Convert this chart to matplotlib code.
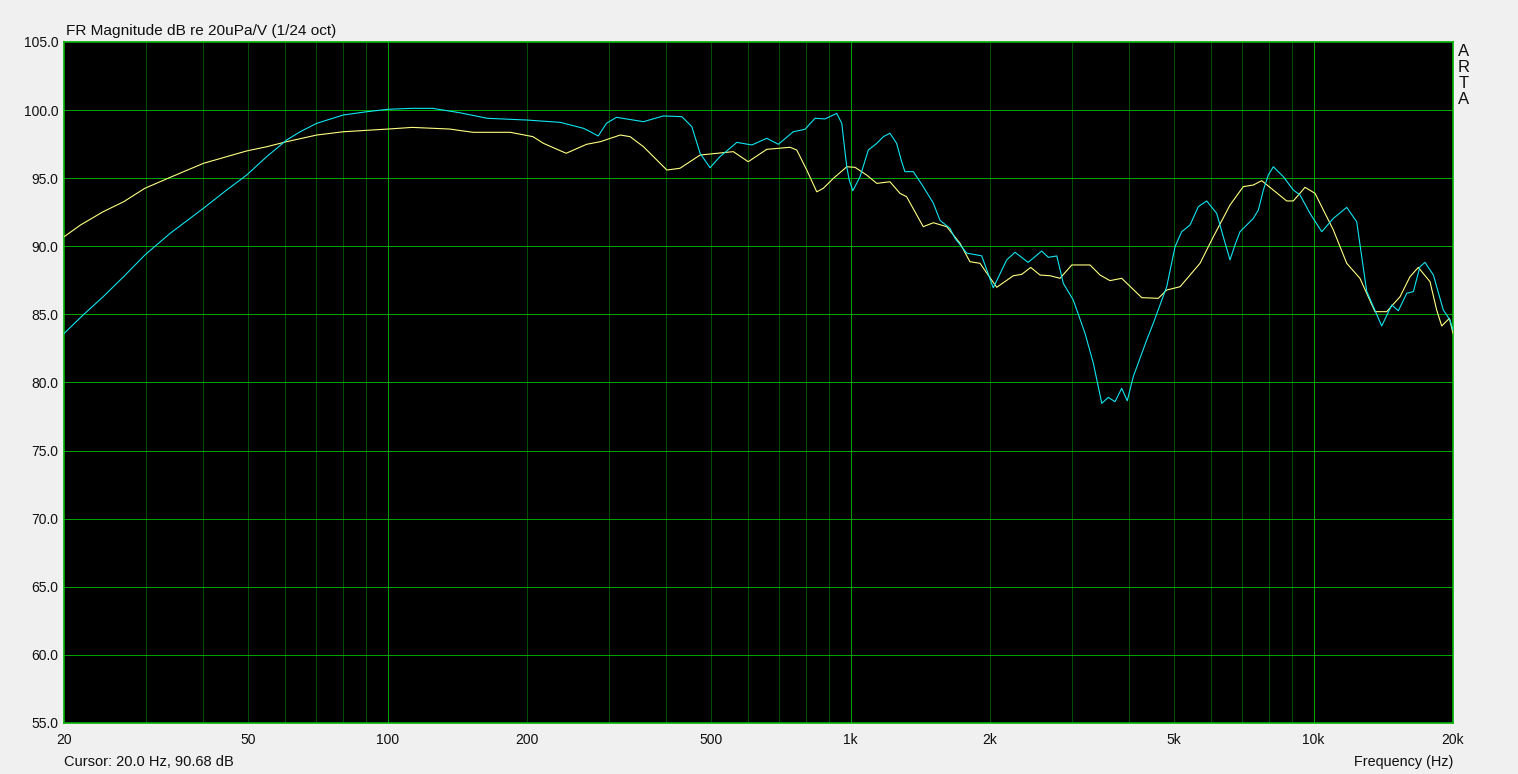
import numpy as np
import matplotlib.pyplot as plt

# response curves
cyan_freq = [20, 22.0, 24.3, 26.9, 29.9, 33.9, 40.0, 44.9, 49.6, 54.8, 60.5, 64.7, 70.3,
             80.2, 90.1, 100.3, 113, 125, 143, 164, 200, 236, 265, 274, 285, 297, 312, 357,
             394, 432, 454, 473, 497, 522, 568, 612, 659, 698, 752, 797, 838, 880, 933, 957,
             964, 981, 993, 1011, 1048, 1092, 1139, 1177, 1216, 1257, 1289, 1310, 1366,
             1435, 1509, 1560, 1639, 1680, 1781, 1919, 2033, 2173, 2265, 2418, 2586, 2673,
             2788, 2880, 2952, 3026, 3208, 3344, 3487, 3602, 3724, 3850, 3958, 4078, 4360,
             4505, 4816, 5020, 5188, 5408, 5636, 5875, 6175, 6381, 6598, 6763, 6934, 7410,
             7596, 7788, 7982, 8185, 8602, 9040, 9345, 9821, 10412, 11030, 11790, 12390,
             13020, 14030, 14750, 15240, 15890, 16420, 16970, 17400, 18140, 19060, 19700,
             20000]
cyan_db = [83.6, 84.96, 86.3, 87.77, 89.36, 90.95, 92.79, 94.13, 95.23, 96.58, 97.8, 98.41,
           99.03, 99.64, 99.88, 100.06, 100.13, 100.13, 99.81, 99.4, 99.27, 99.1, 98.66,
           98.41, 98.1, 99.03, 99.47, 99.15, 99.57, 99.52, 98.78, 96.83, 95.77, 96.58,
           97.63, 97.44, 97.93, 97.49, 98.41, 98.59, 99.4, 99.35, 99.76, 99.03, 98.05,
           95.84, 94.87, 94.08, 95.11, 97.07, 97.56, 98.05, 98.3, 97.56, 96.21, 95.48,
           95.48, 94.38, 93.16, 91.9, 91.32, 90.59, 89.5, 89.3, 86.95, 89.0, 89.56, 88.82,
           89.65, 89.19, 89.29, 87.28, 86.67, 86.06, 83.61, 81.41, 78.47, 78.91, 78.59,
           79.57, 78.66, 80.43, 83.12, 84.35, 87.03, 89.97, 91.07, 91.56, 92.91, 93.33,
           92.42, 90.7, 89.0, 90.1, 91.07, 92.05, 92.66, 94.13, 95.23, 95.84, 95.11, 94.13,
           93.77, 92.42, 91.07, 92.05, 92.86, 91.8, 86.7, 84.15, 85.69, 85.27, 86.55, 86.67,
           88.5, 88.82, 87.89, 85.32, 84.59, 83.85]

yellow_freq = [20, 21.7, 24.3, 26.9, 29.9, 33.9, 40.0, 44.9, 49.6, 54.8, 60.5, 70.3, 80.2,
               100.3, 113, 136, 153, 184, 206, 217, 243, 269, 288, 318, 334, 357, 401, 428,
               473, 558, 601, 659, 740, 765, 804, 845, 873, 918, 981, 1022, 1083, 1139, 1216,
               1278, 1321, 1435, 1509, 1613, 1723, 1810, 1903, 2068, 2246, 2342, 2449, 2565,
               2696, 2833, 3004, 3289, 3457, 3632, 3850, 4254, 4618, 4816, 5146, 5684, 6073,
               6598, 7048, 7410, 7724, 8746, 9040, 9580, 10070, 11030, 11790, 12590, 13570,
               14380, 15370, 16150, 16830, 17840, 18440, 18910, 19640, 20000]
yellow_db = [90.7, 91.56, 92.54, 93.27, 94.26, 95.06, 96.09, 96.58, 97.0, 97.31, 97.68,
             98.17, 98.41, 98.61, 98.73, 98.61, 98.37, 98.37, 98.05, 97.56, 96.83, 97.49,
             97.68, 98.17, 98.05, 97.31, 95.6, 95.73, 96.7, 96.95, 96.21, 97.12, 97.27,
             97.07, 95.6, 94.0, 94.26, 94.99, 95.84, 95.8, 95.23, 94.62, 94.74, 93.89, 93.64,
             91.44, 91.73, 91.44, 90.22, 88.87, 88.75, 86.99, 87.84, 87.94, 88.45, 87.89,
             87.84, 87.65, 88.63, 88.63, 87.89, 87.48, 87.65, 86.23, 86.18, 86.79, 87.03,
             88.75, 90.7, 93.03, 94.38, 94.5, 94.82, 93.33, 93.33, 94.33, 93.89, 91.2, 88.75,
             87.65, 85.2, 85.2, 86.3, 87.77, 88.45, 87.4, 85.32, 84.15, 84.71, 83.61]

x_ticks = [20, 50, 100, 200, 500, 1000, 2000, 5000, 10000, 20000]
x_labels = ['20', '50', '100', '200', '500', '1k', '2k', '5k', '10k', '20k']
y_ticks = np.arange(55, 105.1, 5)

plt.rcParams['font.family'] = ['Liberation Sans', 'DejaVu Sans']

W, H = 1518, 774
fig = plt.figure(figsize=(W / 100, H / 100), dpi=100, facecolor='#f0f0f0')
ax = fig.add_axes([64 / W, 1 - 723 / H, (1453 - 64) / W, (723 - 42) / H])
ax.set_facecolor('black')
ax.set_xscale('log')
ax.set_xlim(20, 20000)
ax.set_ylim(55, 105)

# grid: decades bright, the rest dark green, 1px crisp lines
for dec in [10, 100, 1000, 10000]:
    for m in range(1, 10):
        f = dec * m
        if 20 < f < 20000:
            col = '#00a000' if m == 1 else '#004c00'
            ax.axvline(f, color=col, lw=0.6, zorder=1, antialiased=False)
for v in y_ticks[1:-1]:
    ax.axhline(v, color='#00a000', lw=0.6, zorder=1, antialiased=False)

ax.plot(yellow_freq, yellow_db, color='#ffff80', lw=0.8, zorder=3)
ax.plot(cyan_freq, cyan_db, color='#10e4f0', lw=0.8, zorder=4)

for s in ax.spines.values():
    s.set_color('#00b000')
    s.set_linewidth(1.2)

ax.set_xticks(x_ticks)
ax.set_xticklabels(x_labels)
ax.xaxis.set_minor_locator(plt.NullLocator())
ax.set_yticks(y_ticks)
ax.set_yticklabels([f'{v:.1f}' for v in y_ticks])
ax.tick_params(axis='both', length=0, labelsize=10, colors='#101010')
ax.tick_params(axis='x', pad=7)
ax.tick_params(axis='y', pad=4)

fig.text(66 / W, 1 - 31 / H, 'FR Magnitude dB re 20uPa/V (1/24 oct)', fontsize=11.1,
         va='center', ha='left', color='#101010')
fig.text(64 / W, 1 - 762 / H, 'Cursor: 20.0 Hz, 90.68 dB', fontsize=10.5,
         va='center', ha='left', color='#101010')
fig.text(1453 / W, 1 - 762 / H, 'Frequency (Hz)', fontsize=10.4,
         va='center', ha='right', color='#101010')
for i, ch in enumerate('ARTA'):
    fig.text(1464 / W, 1 - (51 + i * 16) / H, ch, fontsize=12, va='center',
             ha='center', color='#101010')

fig.savefig('out.png', dpi=100, facecolor=fig.get_facecolor())
